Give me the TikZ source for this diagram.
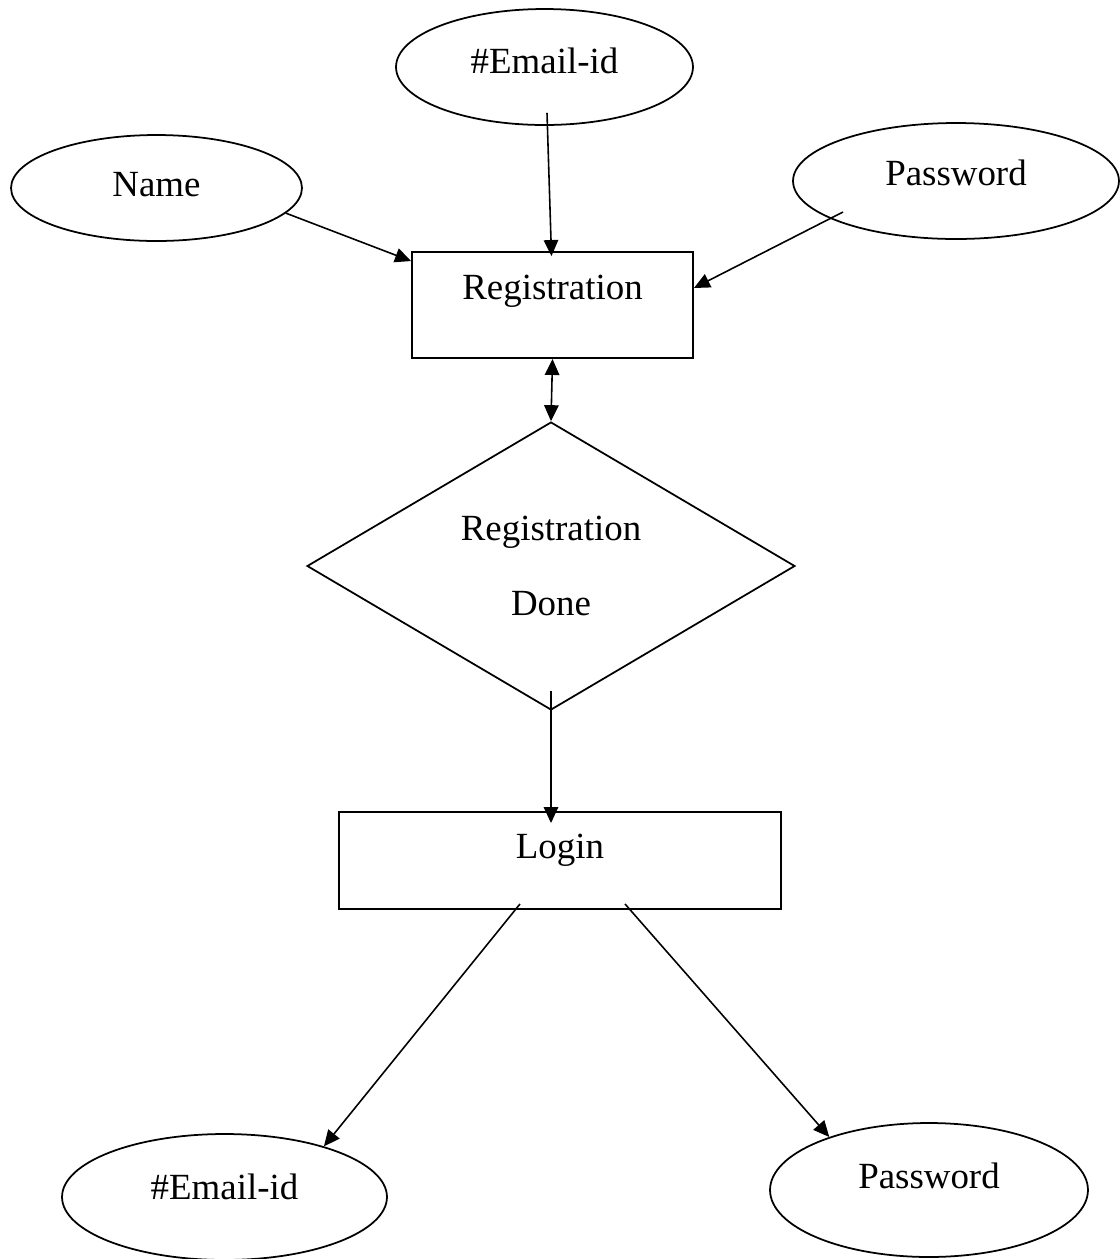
\documentclass[tikz,border=0pt]{standalone}
\usepackage{fontspec}
\setmainfont{Liberation Serif}
\usetikzlibrary{shapes.geometric,arrows.meta,calc}
\tikzstyle{attr}=[draw=black,ellipse,inner sep=0pt,line width=1pt,font=\fontsize{21}{25}\selectfont,text height=0.5cm]
\tikzstyle{entity}=[draw=black,rectangle,inner sep=0pt,line width=1.1pt,font=\fontsize{21}{25}\selectfont,text height=0.5cm]
\tikzstyle{relation}=[draw=black,diamond,inner sep=0pt,line width=1pt,font=\fontsize{21}{25}\selectfont,align=center]
\tikzstyle{link}=[line width=0.9pt]

\begin{document}
\begin{tikzpicture}[x=0.02cm,y=-0.02cm,
    >={Triangle[length=3.2mm,width=2.9mm]}]
    \useasboundingbox (0,0) rectangle (1120,1259);
    % registration part
    \node[attr,minimum width=5.94cm,minimum height=2.32cm,text depth=0.26cm] (mail) at (544.5,67) {\#Email-id};
    \node[attr,minimum width=5.82cm,minimum height=2.12cm,text depth=0.18cm] (name) at (156.5,188) {Name};
    \node[attr,minimum width=6.52cm,minimum height=2.32cm,text depth=0.34cm] (pass) at (956,181) {Password};
    \node[entity,minimum width=5.62cm,minimum height=2.12cm,text depth=0.72cm] (reg) at (552.5,305) {Registration};
    \node[relation,minimum width=9.76cm,minimum height=5.76cm] (done) at (551,566) {Registration\\[18pt]Done};
    % login part
    \node[entity,minimum width=8.84cm,minimum height=1.94cm,text depth=0.6cm] (login) at (560,860.5) {Login};
    \node[attr,minimum width=6.5cm,minimum height=2.52cm,text depth=0.42cm] (mail2) at (224.5,1197) {\#Email-id};
    \node[attr,minimum width=6.36cm,minimum height=2.68cm,text depth=0.58cm] (pass2) at (929,1190) {Password};

    \draw[link,->] (name.-11) -- ($(reg.north west)+(0,10)$);
    \draw[link,->] ($(mail.south)+(2.5,-13)$) -- ($(reg.north)+(-1,5)$);
    \draw[link,->] ($(pass.center)+(-113,31)$) -- ($(reg.east)+(0,-17)$);
    \draw[link,<->] (reg.south) -- (done.north);
    \draw[link,->] ($(done.south)+(0,-20)$) -- ($(done.south |- login.north)+(0,12)$);
    \draw[link,->] ($(login.south)+(-40,-6)$) -- (mail2.27);
    \draw[link,->] ($(login.south)+(65,-6)$) -- (pass2.152);
\end{tikzpicture}
\end{document}
